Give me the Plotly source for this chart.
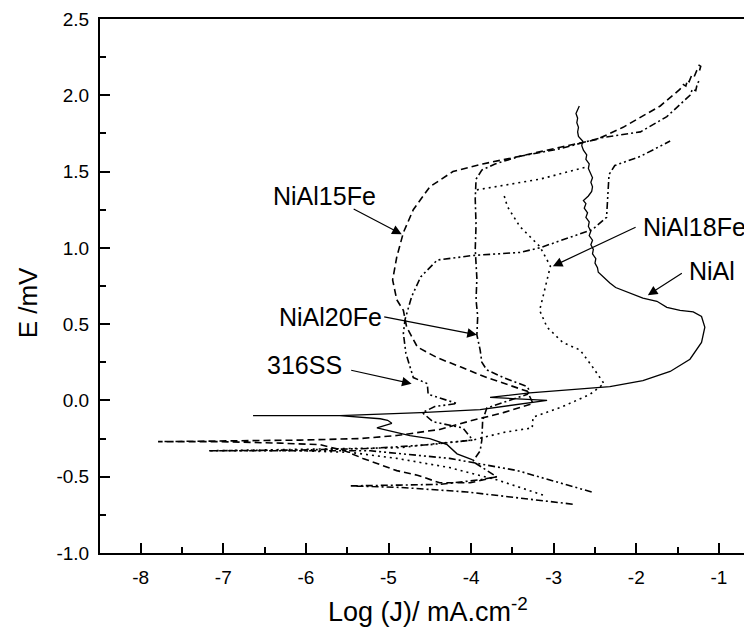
import plotly.graph_objects as go

# ---- data ----
nial_x = [-3.98, -4.17, -4.29, -4.50, -4.74, -4.90, -5.10, -5.14, -4.96, -5.01, -5.10, -5.59, -6.64,
          -5.59, -4.61, -3.89, -3.08, -3.65, -3.77, -3.29, -2.32, -1.92, -1.59, -1.35, -1.21, -1.17,
          -1.21, -1.31, -1.47, -1.63, -1.75, -1.92, -2.11, -2.25, -2.32, -2.38, -2.42, -2.46, -2.47,
          -2.50, -2.49, -2.53, -2.52, -2.55, -2.53, -2.57, -2.55, -2.58, -2.57, -2.61, -2.59, -2.63,
          -2.61, -2.64, -2.58, -2.54, -2.53, -2.55, -2.53, -2.56, -2.58, -2.57, -2.61, -2.60, -2.64,
          -2.66, -2.65, -2.70, -2.71, -2.70, -2.72, -2.71, -2.73, -2.69]
nial_y = [-0.39, -0.35, -0.29, -0.25, -0.23, -0.21, -0.19, -0.18, -0.15, -0.13, -0.12, -0.10, -0.10,
          -0.10, -0.08, -0.06, 0.00, 0.02, 0.02, 0.05, 0.09, 0.13, 0.19, 0.27, 0.38, 0.48,
          0.55, 0.58, 0.59, 0.61, 0.65, 0.67, 0.71, 0.74, 0.77, 0.80, 0.82, 0.84, 0.87,
          0.90, 0.93, 0.96, 0.99, 1.02, 1.05, 1.08, 1.11, 1.14, 1.17, 1.20, 1.23, 1.26,
          1.29, 1.31, 1.34, 1.37, 1.40, 1.43, 1.46, 1.49, 1.52, 1.55, 1.58, 1.61, 1.64,
          1.67, 1.70, 1.73, 1.76, 1.79, 1.82, 1.85, 1.88, 1.93]

fe15_x = [-3.69, -4.01, -4.38, -4.65, -4.90, -5.10, -5.31, -5.53, -5.83, -6.31, -7.04, -7.79,
          -7.04, -6.07, -5.35, -4.90, -4.38, -3.98, -3.61, -3.25, -3.32, -3.49, -3.81, -4.13,
          -4.41, -4.65, -4.78, -4.82, -4.90, -4.95, -4.90, -4.82, -4.70, -4.50, -4.22, -3.86,
          -3.41, -2.92, -2.48, -2.16, -1.71, -1.47, -1.43, -1.40, -1.38, -1.36, -1.33, -1.30,
          -1.27, -1.24, -1.22, -1.25, -1.21]
fe15_y = [-0.50, -0.54, -0.54, -0.49, -0.46, -0.42, -0.38, -0.33, -0.29, -0.28, -0.27, -0.27,
          -0.265, -0.26, -0.25, -0.23, -0.19, -0.13, -0.08, -0.02, 0.06, 0.09, 0.15, 0.22,
          0.28, 0.35, 0.48, 0.59, 0.66, 0.79, 0.94, 1.10, 1.25, 1.40, 1.50, 1.55,
          1.60, 1.66, 1.71, 1.79, 1.93, 2.04, 2.07, 2.06, 2.10, 2.09, 2.13, 2.12,
          2.16, 2.15, 2.19, 2.20, 2.21]

fe18_x = [-3.13, -3.69, -4.26, -4.90, -5.47, -6.07, -7.18,
          -6.07, -4.86, -4.38, -3.98, -3.61, -3.26, -3.25, -2.89, -2.56, -2.39, -2.53, -2.68,
          -2.89, -3.08, -3.17, -3.11, -3.04, -3.17, -3.41, -3.56, -3.61,
          None, -3.93, -3.17, -2.60]
fe18_y = [-0.62, -0.52, -0.44, -0.38, -0.34, -0.33, -0.33,
          -0.32, -0.31, -0.28, -0.26, -0.21, -0.18, -0.11, -0.04, 0.04, 0.11, 0.22, 0.33,
          0.38, 0.48, 0.59, 0.72, 0.88, 1.01, 1.14, 1.27, 1.36,
          None, 1.38, 1.45, 1.53]

fe20_x = [-2.77, -3.25, -4.05, -4.86, -5.47,
          -4.86, -4.38, -3.89, -3.69, -3.98, -3.89, -3.87, -3.86, -3.81, -3.53, -3.32, -3.29,
          -3.32, -3.61, -3.81, -3.87, -3.89, -3.93, -3.92, -3.94, -3.93, -3.95, -3.94, -3.95,
          -3.94, -3.87, -3.71, -3.41, -2.92, -2.44, -1.95, -1.63, -1.35, -1.32, -1.28, -1.26, -1.23]
fe20_y = [-0.68, -0.65, -0.60, -0.57, -0.56,
          -0.555, -0.55, -0.52, -0.50, -0.40, -0.33, -0.26, -0.13, -0.05, 0.00, 0.04, 0.06,
          0.09, 0.15, 0.20, 0.25, 0.33, 0.43, 0.55, 0.66, 0.80, 0.99, 1.15, 1.32,
          1.45, 1.51, 1.55, 1.60, 1.65, 1.72, 1.76, 1.86, 2.00, 2.04, 2.03, 2.08, 2.10]

ss_x = [-2.54, -2.92, -3.44, -4.26, -5.22, -6.07, -7.18,
        -6.07, -5.22, -4.50, -3.98, -4.10, -4.46, -4.59, -4.44, -4.17, -4.52, -4.53, -4.70,
        -4.79, -4.82, -4.80, -4.72, -4.61, -4.41, -3.98, -3.41, -3.17, -2.53, -2.36, -2.34,
        -2.33, -2.26, -1.95, -1.59]
ss_y = [-0.60, -0.54, -0.46, -0.38, -0.33, -0.33, -0.33,
        -0.325, -0.315, -0.29, -0.26, -0.18, -0.14, -0.08, -0.04, -0.02, 0.04, 0.11, 0.15,
        0.31, 0.44, 0.53, 0.68, 0.81, 0.92, 0.95, 0.97, 1.00, 1.12, 1.20, 1.38,
        1.48, 1.54, 1.60, 1.70]

x_tickvals = [-8, -7, -6, -5, -4, -3, -2, -1]
x_ticktext = ["-8", "-7", "-6", "-5", "-4", "-3", "-2", "-1"]
y_tickvals = [-1.0, -0.5, 0.0, 0.5, 1.0, 1.5, 2.0, 2.5]
y_ticktext = ["-1.0", "-0.5", "0.0", "0.5", "1.0", "1.5", "2.0", "2.5"]

labels = ["NiAl15Fe", "NiAl20Fe", "316SS", "NiAl18Fe", "NiAl"]
label_x = [-5.77, -5.70, -6.02, -1.29, -1.08]
label_y = [1.34, 0.55, 0.23, 1.14, 0.85]
arrow_from_x = [-5.44, -5.07, -5.47, -1.99, -1.43]
arrow_from_y = [1.26, 0.55, 0.20, 1.14, 0.84]
arrow_to_x = [-4.84, -3.93, -4.72, -3.01, -1.86]
arrow_to_y = [1.09, 0.43, 0.11, 0.88, 0.69]

x_title = "Log (J)/ mA.cm<sup>-2</sup>"
y_title = "E /mV"

FONT = "Liberation Sans, Arial, sans-serif"

fig = go.Figure()
fig.add_trace(go.Scatter(x=nial_x, y=nial_y, mode="lines", line=dict(color="black", width=1.3),
                         name="NiAl"))
fig.add_trace(go.Scatter(x=fe15_x, y=fe15_y, mode="lines",
                         line=dict(color="black", width=1.6, dash="7px,4px"), name="NiAl15Fe"))
fig.add_trace(go.Scatter(x=fe18_x, y=fe18_y, mode="lines", connectgaps=False,
                         line=dict(color="black", width=1.6, dash="2px,4px"), name="NiAl18Fe"))
fig.add_trace(go.Scatter(x=fe20_x, y=fe20_y, mode="lines",
                         line=dict(color="black", width=1.6, dash="7px,3px,2px,3px"), name="NiAl20Fe"))
fig.add_trace(go.Scatter(x=ss_x, y=ss_y, mode="lines",
                         line=dict(color="black", width=1.6, dash="7px,3px,2px,3px,2px,3px"),
                         name="316SS"))

annotations = []
for t, lx, ly in zip(labels, label_x, label_y):
    annotations.append(dict(x=lx, y=ly, xref="x", yref="y", text=t, showarrow=False,
                            font=dict(family=FONT, size=25, color="black")))
for fx, fy, tx, ty in zip(arrow_from_x, arrow_from_y, arrow_to_x, arrow_to_y):
    annotations.append(dict(x=tx, y=ty, ax=fx, ay=fy, xref="x", yref="y", axref="x", ayref="y",
                            text="", showarrow=True, arrowhead=2, arrowsize=1.6, arrowwidth=1.2,
                            arrowcolor="black", standoff=0, startstandoff=0))
# axis titles (placed in paper coordinates)
annotations.append(dict(x=0.503, y=-0.107, xref="paper", yref="paper", text=x_title,
                        showarrow=False, xanchor="center", yanchor="middle",
                        font=dict(family=FONT, size=27, color="black")))
annotations.append(dict(x=-0.110, y=0.468, xref="paper", yref="paper", text=y_title,
                        showarrow=False, xanchor="center", yanchor="middle", textangle=-90,
                        font=dict(family=FONT, size=26, color="black")))

# page body has an 8px default margin: size the figure so the plot area lands
# where the reference has it
fig.update_layout(
    width=744, height=627,
    margin=dict(l=92, r=0, t=11, b=82, autoexpand=False),
    paper_bgcolor="white", plot_bgcolor="white",
    showlegend=False,
    font=dict(family=FONT, color="black"),
    annotations=annotations,
)
fig.update_xaxes(
    range=[-8.493, -0.599], showgrid=False, zeroline=False, automargin=False,
    showline=True, linecolor="black", linewidth=2, mirror=True,
    ticks="inside", ticklen=10, tickwidth=1.5, tickcolor="black",
    tickvals=x_tickvals, ticktext=x_ticktext, tickfont=dict(family=FONT, size=19),
    ticklabelstandoff=6,
    minor=dict(ticks="inside", ticklen=6, tickwidth=1.5, tickcolor="black", dtick=0.5, tick0=0),
)
fig.update_yaxes(
    range=[-1.0, 2.5], showgrid=False, zeroline=False, automargin=False,
    showline=True, linecolor="black", linewidth=2, mirror=False,
    ticks="inside", ticklen=10, tickwidth=1.5, tickcolor="black",
    tickvals=y_tickvals, ticktext=y_ticktext, tickfont=dict(family=FONT, size=19),
    ticklabelstandoff=5,
    minor=dict(ticks="inside", ticklen=6, tickwidth=1.5, tickcolor="black", dtick=0.25, tick0=0),
)

fig.write_html("out.html")
